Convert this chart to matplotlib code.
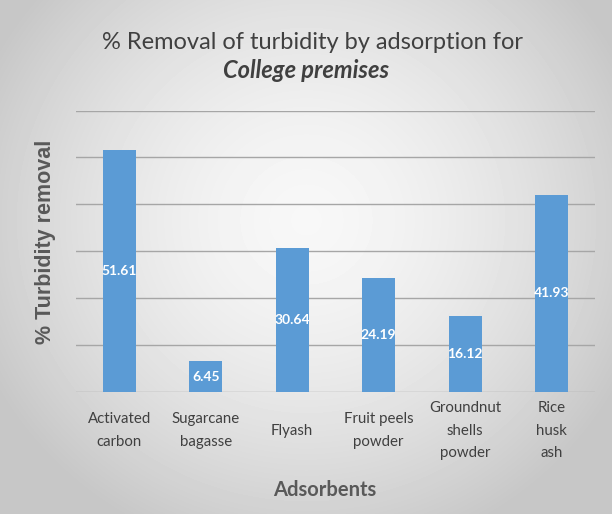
import numpy as np
import matplotlib.pyplot as plt

categories = ["Activated\ncarbon", "Sugarcane\nbagasse", "Flyash", "Fruit peels\npowder",
              "Groundnut\nshells\npowder", "Rice\nhusk\nash"]
values = [51.61, 6.45, 30.64, 24.19, 16.12, 41.93]

fig = plt.figure(figsize=(6.12, 5.14), dpi=100)

# radial gray background
bg = fig.add_axes([0, 0, 1, 1])
yy, xx = np.mgrid[0:514, 0:612]
r = np.sqrt(((xx - 306) / 330.0) ** 2 + ((yy - 220) / 320.0) ** 2)
shade = np.clip(0.97 - 0.17 * r ** 1.6, 0.78, 0.97)
bg.imshow(shade, cmap="gray", vmin=0, vmax=1, aspect="auto", extent=[0, 1, 0, 1])
bg.axis("off")

ax = fig.add_axes([0.124, 0.238, 0.848, 0.547])
ax.patch.set_alpha(0)
x = np.arange(len(values))
ax.bar(x, values, width=0.38, color="#5B9BD5", zorder=3)
ax.set_xlim(-0.5, len(values) - 0.5)
ax.set_ylim(0, 60)
ax.set_yticks(np.arange(0, 61, 10))
ax.yaxis.grid(True, color="#a6a6a6", lw=1, zorder=0)
ax.tick_params(axis="y", length=0, labelleft=False)
ax.tick_params(axis="x", length=0, pad=28)
ax.set_xticks(x)
ax.set_xticklabels(categories, fontsize=10.8, color="#404040", family="Lato",
                   va="center", linespacing=1.74)
for s in ax.spines.values():
    s.set_visible(False)

for xi, v in zip(x, values):
    ax.text(xi, v / 2, "{:.2f}".format(v), ha="center", va="center", color="white",
            fontsize=10, fontweight="bold", family="Lato", zorder=4)

fig.text(0.51, 0.918, "% Removal of turbidity by adsorption for", ha="center", va="center",
         fontsize=17, color="#404040", family="Lato")
fig.text(0.50, 0.862, "College premises", ha="center", va="center",
         fontsize=17, color="#404040", family="Lato", fontweight="bold", style="italic")
fig.text(0.074, 0.53, "% Turbidity removal", rotation=90, ha="center", va="center",
         fontsize=15.5, color="#595959", fontweight="bold", family="Liberation Sans")
fig.text(0.53, 0.047, "Adsorbents", ha="center", va="center",
         fontsize=14.5, color="#595959", fontweight="bold", family="Lato")

fig.savefig("out.png", dpi=100)
